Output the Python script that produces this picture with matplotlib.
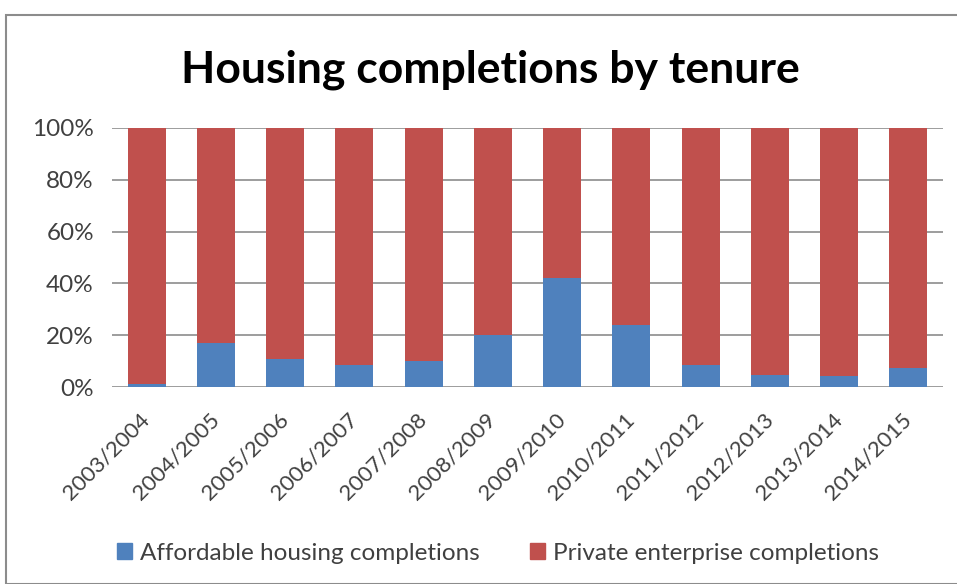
import matplotlib.pyplot as plt
from matplotlib.patches import Rectangle, Patch

# --- DATA ---
years = ["2003/2004", "2004/2005", "2005/2006", "2006/2007", "2007/2008", "2008/2009",
         "2009/2010", "2010/2011", "2011/2012", "2012/2013", "2013/2014", "2014/2015"]
affordable = [1, 17, 10.7, 8.5, 10.2, 20, 42, 24, 8.5, 4.6, 4.4, 7.5]
private = [100 - a for a in affordable]

blue = "#4F81BD"
red = "#C0504D"
text_col = "#404040"

plt.rcParams["font.family"] = ["Lato", "DejaVu Sans"]

fig = plt.figure(figsize=(9.57, 5.84), dpi=100)
W, H = 957, 584
ax = fig.add_axes([112 / W, (H - 387) / H, (943 - 112) / W, (387 - 128) / H])

x = range(len(years))
ax.bar(x, affordable, width=0.55, color=blue, zorder=3)
ax.bar(x, private, width=0.55, bottom=affordable, color=red, zorder=3)

# --- AXES ---
ax.set_xlim(-0.5, len(years) - 0.5)
ax.set_ylim(0, 100)
ax.set_yticks([0, 20, 40, 60, 80, 100])
ax.set_yticklabels([f"{v}%" for v in [0, 20, 40, 60, 80, 100]], fontsize=17.5, color=text_col)
ax.set_xticks(list(x))
ax.set_xticklabels(years, rotation=45, ha="right", va="center", rotation_mode="anchor",
                   fontsize=16, color=text_col)
ax.tick_params(axis="y", length=0, pad=13)
ax.tick_params(axis="x", length=0, pad=21)
ax.grid(axis="y", color="#8C8C8C", linewidth=1.2, zorder=0)
for s in ax.spines.values():
    s.set_visible(False)

# --- TITLE & LEGEND ---
fig.text(490 / W, 1 - 70 / H, "Housing completions by tenure", ha="center", va="center",
         fontsize=32, fontweight="bold", color="black")
handles = [Patch(color=blue), Patch(color=red)]
fig.legend(handles, ["Affordable housing completions", "Private enterprise completions"],
           loc="center", bbox_to_anchor=(498 / W, 1 - 553 / H), ncol=2, frameon=False,
           fontsize=17.5, handlelength=0.62, handleheight=0.62, handletextpad=0.3,
           columnspacing=2.1, labelcolor=text_col)

# outer chart frame
fig.patches.append(Rectangle((6 / W, 0), 1, 1 - 15 / H, transform=fig.transFigure,
                             fill=False, edgecolor="#8C8C8C", linewidth=1.5))

fig.savefig("out.png", dpi=100)
